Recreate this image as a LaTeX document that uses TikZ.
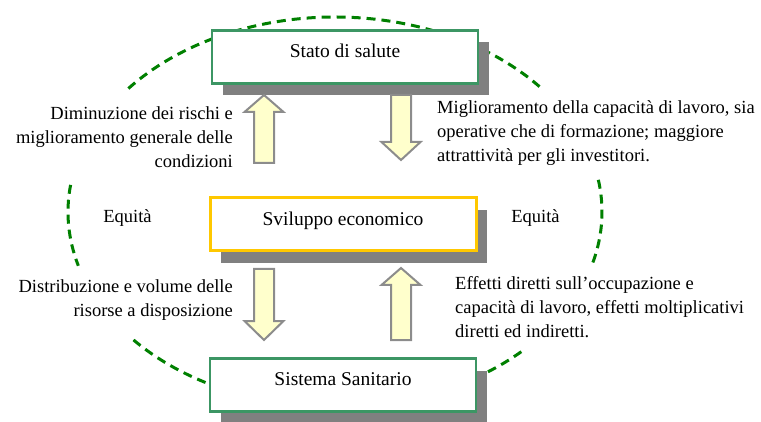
\documentclass[tikz,border=0pt]{standalone}
\usepackage{fontspec}
\setmainfont{Liberation Serif}
\usetikzlibrary{shadows}
\definecolor{boxgreen}{RGB}{60,150,100}
\definecolor{boxyellow}{RGB}{255,200,0}
\definecolor{equitygreen}{RGB}{0,128,0}
\definecolor{arrowfill}{RGB}{255,255,204}
\definecolor{arrowline}{RGB}{140,140,140}
\definecolor{shadowgray}{RGB}{128,128,128}
\newcommand\blockarrow[4]{\draw[arrowbody] (#1-10,#2) -- (#1-10,#3) -- (#1-19.5,#3) -- (#1,#4)
  -- (#1+19.5,#3) -- (#1+10,#3) -- (#1+10,#2) -- cycle;}
\begin{document}
\begin{tikzpicture}[x=1pt,y=1pt]
\tikzset{box/.style = {draw=boxgreen, fill=white, line width=2.5pt, minimum width=266pt, minimum height=53pt,
  inner sep=0pt, text depth=12pt, font=\fontsize{19.5}{23}\selectfont,
  drop shadow={shadow xshift=11pt, shadow yshift=-12pt, opacity=1, fill=shadowgray}},
  side/.style = {inner sep=0pt, font=\fontsize{18.5}{24}\selectfont},
  equity/.style = {draw=equitygreen, line width=3pt, dash pattern=on 9pt off 6pt},
  arrowbody/.style = {draw=arrowline, fill=arrowfill, line width=2pt, line join=miter}}
\useasboundingbox (0,0) rectangle (761,421);
\draw[equity] (335,209) ++(40:267 and 195) arc[start angle=40, end angle=141, x radius=267, y radius=195];
\draw[equity] (335,209) ++(172:267 and 195) arc[start angle=172, end angle=196, x radius=267, y radius=195];
\draw[equity] (335,209) ++(-15:267 and 195) arc[start angle=-15, end angle=10, x radius=267, y radius=195];
\draw[equity] (335,209) ++(221:267 and 195) arc[start angle=221, end angle=315, x radius=267, y radius=195];
\node[box] (stato) at (345,364) {Stato di salute};
\node[box, draw=boxyellow, line width=3pt] (sviluppo) at (343,196.5) {Sviluppo economico};
\node[box] (sistema) at (343,36) {Sistema Sanitario};
\blockarrow{264}{258}{309}{326}
\blockarrow{401}{326}{279}{261}
\blockarrow{264}{152}{100}{81}
\blockarrow{401}{81}{136}{153}
\node[side, anchor=east, align=right] (rischi) at (233,284) {Diminuzione dei rischi e\\miglioramento generale delle\\condizioni};
\node[side, anchor=west, align=left] (lavoro) at (437,288) {Miglioramento della capacità di lavoro, sia\\operative che di formazione; maggiore\\attrattività per gli investitori.};
\node[side] (equita sx) at (127.5,203) {Equità};
\node[side] (equita dx) at (535.5,203) {Equità};
\node[side, anchor=east, align=right] (risorse) at (233,120.5) {Distribuzione e volume delle\\risorse a disposizione};
\node[side, anchor=west, align=left] (effetti) at (455,114) {Effetti diretti sull’occupazione e\\capacità di lavoro, effetti moltiplicativi\\diretti ed indiretti.};
\end{tikzpicture}
\end{document}
